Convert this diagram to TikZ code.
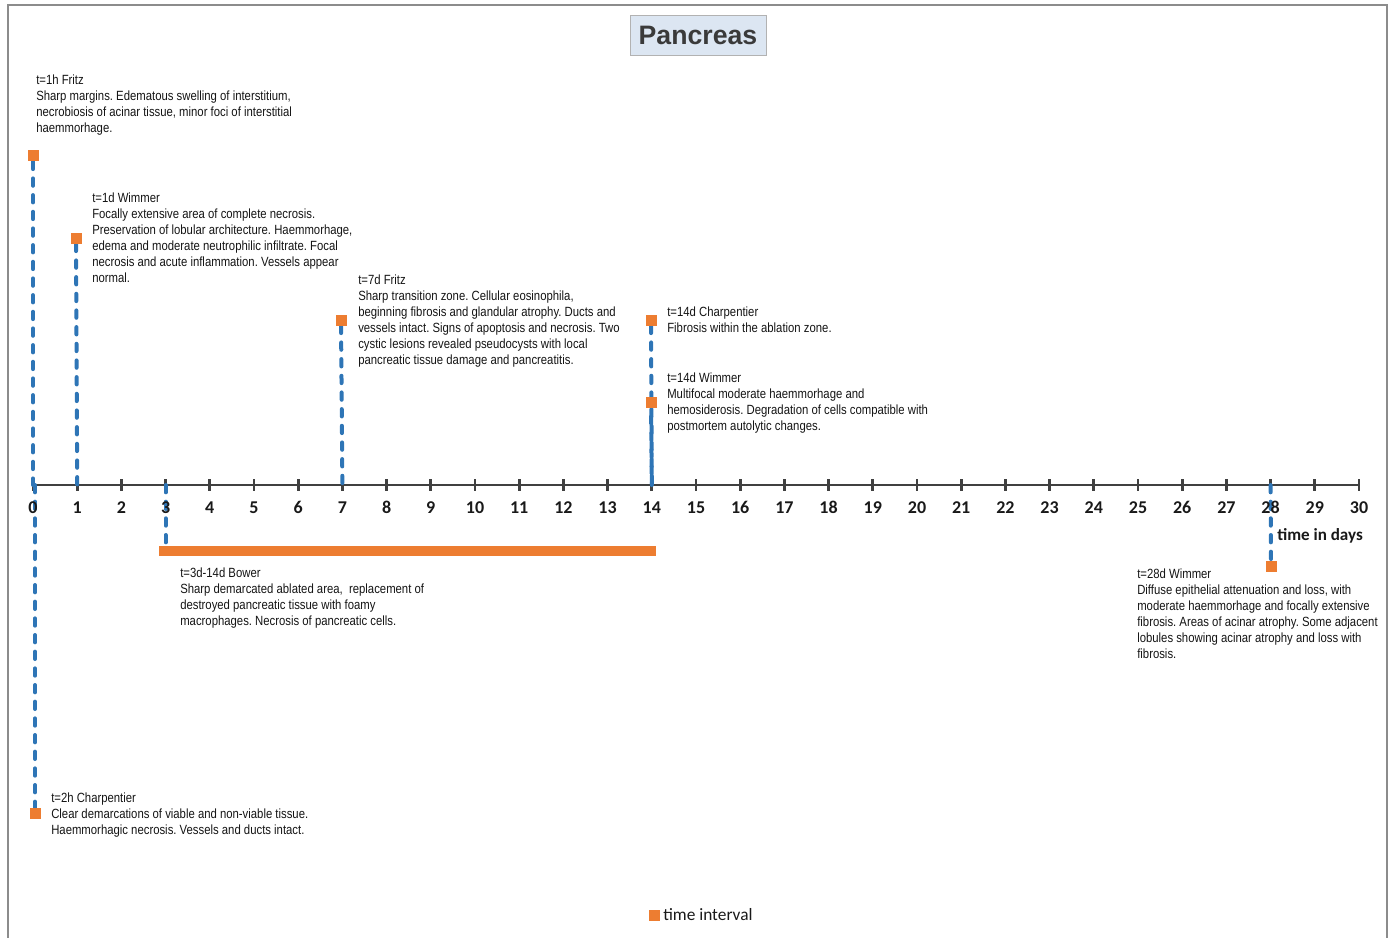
\documentclass[tikz,border=0pt]{standalone}
\usepackage{fontspec}
\setmainfont{Liberation Sans}
\newfontfamily\bodyfont[FakeStretch=0.85]{Liberation Sans}
\newfontfamily\calib[Numbers=Lining]{Carlito}
\definecolor{tlblue}{HTML}{2E75B6}
\definecolor{tlorange}{HTML}{ED7D31}
\definecolor{axisgray}{HTML}{404040}
\definecolor{framegray}{HTML}{8C8C8C}
\definecolor{titlefill}{HTML}{DCE6F2}
\definecolor{titletext}{HTML}{3A3A3A}
\tikzset{
  marker/.style={fill=tlorange, minimum size=8.25pt, inner sep=0pt},
  link/.style={tlblue, line width=3pt, dash pattern=on 5.5pt off 7pt, line cap=round},
  note/.style={font=\bodyfont\frenchspacing\fontsize{10}{12}\selectfont, align=left,
               anchor=north west, inner sep=0pt, text=black!92},
  daylabel/.style={font=\calib\bfseries\fontsize{13.5}{16}\selectfont, text=black!90,
                   anchor=base, inner sep=0pt},
  axisline/.style={axisgray, line width=2pt},
}
\begin{document}
\begin{tikzpicture}[x=0.75pt, y=-0.75pt]
\useasboundingbox (0,0) rectangle (1391,938);

% outer frame (open at the bottom)
\draw[framegray, line width=1.5pt] (8,940) -- (8,5) -- (1387,5) -- (1387,940);

% title
\node[draw=black!30, fill=titlefill, minimum width=102pt, minimum height=30pt,
      inner sep=0pt, font=\bfseries\fontsize{20}{24}\selectfont, text=titletext]
      (title) at (698,35) {Pancreas};

% time axis
\foreach \i in {0,...,30} {
  \coordinate (d\i) at ({33+44.2*\i},485);
}
\draw[axisline] (d0) -- (d30);
\foreach \i in {0,...,30} {
  \draw[axisline] (d\i) ++(0,-6) -- ++(0,12);
}

% interval bar t=3d-14d
\node[fill=tlorange, minimum width=372.75pt, minimum height=7.5pt, inner sep=0pt]
      (bower) at (407.5,550.5) {};
\draw[link] (d3) -- (d3 |- bower.north);

% event markers
\node[marker] (m1h)  at (33,156) {};
\node[marker] (m1d)  at (76,238) {};
\node[marker] (m7d)  at (341,320) {};
\node[marker] (m14c) at (651,320) {};
\node[marker] (m14w) at (651,402) {};
\node[marker] (m28)  at (1271,566) {};
\node[marker] (m2h)  at (35,813) {};
\coordinate (a2h) at (35,485);

% connectors from markers to the axis
\draw[link] (m1h) -- (d0);
\draw[link] (m1d) -- (d1);
\draw[link] (m7d) -- (d7);
\draw[link] (m14c) -- (d14);
\draw[link, dash phase=6pt] (m14w) -- (d14);
\draw[link] (d28) -- (m28);
\draw[link] (a2h) -- (m2h);
\node[marker] at (m1h) {};
\node[marker] at (m1d) {};
\node[marker] at (m7d) {};
\node[marker] at (m14c) {};
\node[marker] at (m14w) {};
\node[marker] at (m28) {};
\node[marker] at (m2h) {};

% day labels
\foreach \i in {0,...,30} {
  \node[daylabel] (l\i) at ({33+44.2*\i},513) {\i};
}
\node[daylabel, anchor=base west] (unit) at (1277,540) {\fontsize{12.8}{15}\selectfont time in days};

% descriptions
\node[note] (n1h) at (36,75) {t=1h Fritz\\Sharp margins. Edematous swelling of interstitium,\\necrobiosis of acinar tissue, minor foci of interstitial\\haemmorhage.};
\node[note] (n1d) at (92,193) {t=1d Wimmer\\Focally extensive area of complete necrosis.\\Preservation of lobular architecture. Haemmorhage,\\edema and moderate neutrophilic infiltrate. Focal\\necrosis and acute inflammation. Vessels appear\\normal.};
\node[note] (n7d) at (358,275) {t=7d Fritz\\Sharp transition zone. Cellular eosinophila,\\beginning fibrosis and glandular atrophy. Ducts and\\vessels intact. Signs of apoptosis and necrosis. Two\\cystic lesions revealed pseudocysts with local\\pancreatic tissue damage and pancreatitis.};
\node[note] (n14c) at (667,307) {t=14d Charpentier\\Fibrosis within the ablation zone.};
\node[note] (n14w) at (667,373) {t=14d Wimmer\\Multifocal moderate haemmorhage and\\hemosiderosis. Degradation of cells compatible with\\postmortem autolytic changes.};
\node[note] (nbow) at (180,568) {t=3d-14d Bower\\Sharp demarcated ablated area,\ \ replacement of\\destroyed pancreatic tissue with foamy\\macrophages. Necrosis of pancreatic cells.};
\node[note] (n28) at (1137,569) {t=28d Wimmer\\Diffuse epithelial attenuation and loss, with\\moderate haemmorhage and focally extensive\\fibrosis. Areas of acinar atrophy. Some adjacent\\lobules showing acinar atrophy and loss with\\fibrosis.};
\node[note] (n2h) at (51,793) {t=2h Charpentier\\Clear demarcations of viable and non-viable tissue.\\Haemmorhagic necrosis. Vessels and ducts intact.};

% legend
\node[marker] (legmark) at (654,915) {};
\node[anchor=west, inner sep=0pt, font=\calib\fontsize{13}{15}\selectfont, text=black!90]
      (legtext) at (663,915) {time interval};
\end{tikzpicture}
\end{document}
